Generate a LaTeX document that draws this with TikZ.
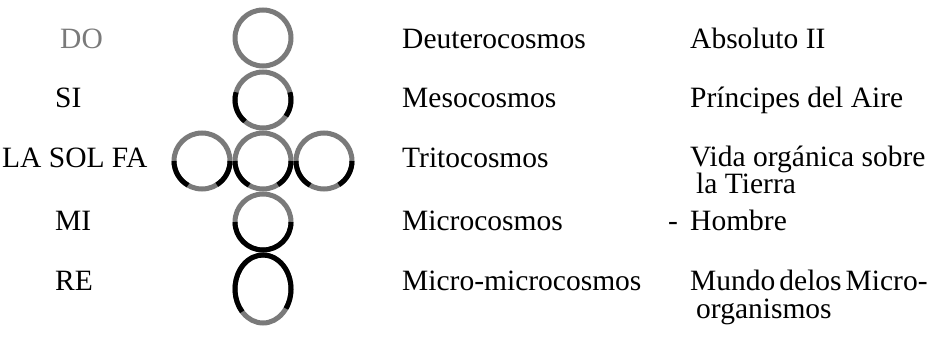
\documentclass[tikz,border=0pt]{standalone}
\usepackage{fontspec}
\setmainfont{Liberation Serif}
\usetikzlibrary{calc}
\begin{document}
\begin{tikzpicture}[x=1pt,y=1pt,
  ring/.style={draw=ringgray,line width=5pt},
  blk/.style={draw=black,line width=5pt},
  lbl/.style={anchor=base west,inner sep=0pt,font=\fontsize{29.5}{26}\selectfont},
  twoline/.style={lbl,align=left}]
\definecolor{ringgray}{HTML}{7A7A7A}
\useasboundingbox (0,-347) rectangle (933,0);
% centres
\coordinate (c1) at (263,-38);
\coordinate (c2) at (263,-100);
\coordinate (c3) at (263,-161);
\coordinate (cl) at (202,-161);
\coordinate (cr) at (324,-161);
\coordinate (c4) at (263,-222);
\coordinate (c5) at (263,-289);
\def\rr{28}
% gray rings
\foreach \c in {c1,c2,c3,cl,cr,c4}{\draw[ring] (\c) circle[radius=\rr];}
\draw[ring] (c5) ellipse[x radius=\rr,y radius=34];
% black arcs
\draw[blk] ($(c2)+(164:\rr)$) arc[start angle=164,end angle=230,radius=\rr];
\draw[blk] ($(c2)+(-35:\rr)$) arc[start angle=-35,end angle=16,radius=\rr];
\foreach \c in {cl,c3,cr}{
  \draw[blk] ($(\c)+(180:\rr)$) arc[start angle=180,end angle=240,radius=\rr];
  \draw[blk] ($(\c)+(-58:\rr)$) arc[start angle=-58,end angle=0,radius=\rr];
}
\draw[blk] ($(c4)+(180:\rr)$) arc[start angle=180,end angle=360,radius=\rr];
\draw[blk] ($(c5)+(-35:28 and 34)$) arc[start angle=-35,end angle=222,x radius=28,y radius=34];
% left labels
\node[lbl,text=ringgray] (do) at (60,-49) {DO};
\node[lbl] (si) at (55,-108) {SI};
\node[lbl] (lsf) at (2,-168) {LA SOL FA};
\node[lbl] (mi) at (55,-230) {MI};
\node[lbl] (re) at (55,-290) {RE};
% middle labels
\node[lbl] (deu) at (402,-49) {Deuterocosmos};
\node[lbl] (mes) at (402,-108) {Mesocosmos};
\node[lbl] (tri) at (402,-168) {Tritocosmos};
\node[lbl] (mic) at (402,-230) {Microcosmos};
\node[lbl] (mm) at (402,-290) {Micro-microcosmos};
% right labels
\node[lbl] (abs) at (690,-49) {Absoluto II};
\node[lbl] (pri) at (690,-108) {Príncipes del Aire};
\node[twoline] (vid) at (690,-194) {Vida orgánica sobre\\\hspace*{6pt}la Tierra};
\node[lbl] (dash) at (668,-230) {-};
\node[lbl] (hom) at (690,-230) {Hombre};
\node[twoline] (mun) at (690,-318) {Mundo\hspace{4pt}delos\hspace{4pt}Micro-\\[2pt]\hspace*{6pt}organismos};
\end{tikzpicture}
\end{document}
